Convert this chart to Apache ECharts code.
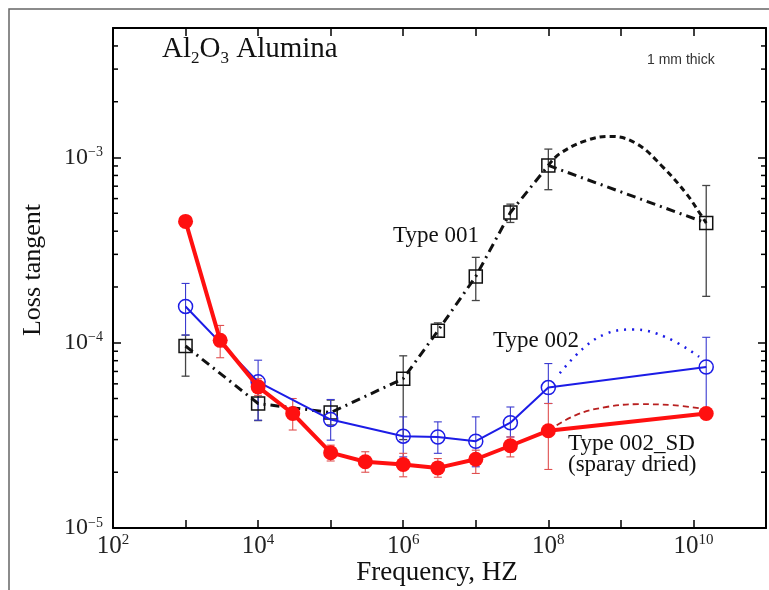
<!DOCTYPE html>
<html>
<head>
<meta charset="utf-8">
<script src="https://cdn.jsdelivr.net/npm/echarts@6/dist/echarts.min.js"></script>
<style>
  html, body { margin: 0; padding: 0; background: #fff; }
  #main { width: 769px; height: 590px; }
</style>
</head>
<body>
<div id="main"></div>
<script>
// Type 001 (open squares, dash-dot)
var type001Freq = [1e3, 1e4, 1e5, 1e6, 3e6, 1e7, 3e7, 1e8, 1.5e10];
var type001Val  = [9.6e-5, 4.7e-5, 4.2e-5, 6.4e-5, 1.16e-4, 2.28e-4, 5.05e-4, 9.06e-4, 4.43e-4];
var type001Lo   = [6.6e-5, 3.8e-5, 3.6e-5, 3.0e-5, 1.07e-4, 1.69e-4, 4.46e-4, 6.7e-4, 1.78e-4];
var type001Hi   = [1.1e-4, 5.4e-5, 4.9e-5, 8.5e-5, 1.28e-4, 2.89e-4, 5.6e-4, 1.11e-3, 7.06e-4];
// upper dashed branch of type 001
var type001PeakFreq = [1e8, 1.44e8, 3.35e8, 7e8, 1.63e9, 3.8e9, 8e9, 1.28e10, 1.5e10];
var type001PeakVal  = [9.06e-4, 1.05e-3, 1.235e-3, 1.3e-3, 1.19e-3, 8.87e-4, 6.37e-4, 4.87e-4, 4.43e-4];

// Type 002 (open circles, blue)
var type002Freq = [1e3, 1e4, 1e5, 1e6, 3e6, 1e7, 3e7, 1e8, 1.5e10];
var type002Val  = [1.57e-4, 6.15e-5, 3.85e-5, 3.13e-5, 3.1e-5, 2.94e-5, 3.7e-5, 5.73e-5, 7.4e-5];
var type002Lo   = [1.1e-4, 3.82e-5, 2.98e-5, 2.42e-5, 2.53e-5, 2.14e-5, 3.1e-5, 4.7e-5, 4.15e-5];
var type002Hi   = [2.09e-4, 8.05e-5, 4.94e-5, 3.98e-5, 3.74e-5, 3.98e-5, 4.5e-5, 7.72e-5, 1.07e-4];
var type002PeakFreq = [1.44e8, 3e8, 6.3e8, 1.47e9, 4.2e9, 1.2e10];
var type002PeakVal  = [6.85e-5, 9.3e-5, 1.12e-4, 1.18e-4, 1.07e-4, 8.4e-5];

// Type 002_SD (filled circles, red)
var type002SDFreq = [1e3, 3e3, 1e4, 3e4, 1e5, 3e5, 1e6, 3e6, 1e7, 3e7, 1e8, 1.5e10];
var type002SDVal  = [4.52e-4, 1.03e-4, 5.78e-5, 4.15e-5, 2.55e-5, 2.28e-5, 2.2e-5, 2.11e-5, 2.35e-5, 2.78e-5, 3.35e-5, 4.15e-5];
var type002SDLo   = [null, 8.3e-5, 5.2e-5, 3.38e-5, 2.3e-5, 2.0e-5, 1.89e-5, 1.88e-5, 1.97e-5, 2.42e-5, 2.07e-5, null];
var type002SDHi   = [null, 1.24e-4, 6.4e-5, 5.0e-5, 2.8e-5, 2.58e-5, 2.53e-5, 2.37e-5, 2.63e-5, 3.1e-5, 4.7e-5, null];
var type002SDPeakFreq = [1e8, 2.4e8, 6.3e8, 1.8e9, 5.2e9, 1.28e10];
var type002SDPeakVal  = [3.35e-5, 4.07e-5, 4.5e-5, 4.66e-5, 4.6e-5, 4.42e-5];

// axis decoration
var minorMultipliers = [2, 3, 4, 5, 6, 7, 8, 9];
var minorDecades = [1e-5, 1e-4, 1e-3];

var SERIF = 'Liberation Serif';

function pairs(xs, ys) {
    var out = [];
    for (var i = 0; i < xs.length; i++) out.push([xs[i], ys[i]]);
    return out;
}
function errPairs(xs, lo, hi) {
    var out = [];
    for (var i = 0; i < xs.length; i++) {
        if (lo[i] != null && hi[i] != null) out.push([xs[i], lo[i], hi[i]]);
    }
    return out;
}
function errorBar(color, width) {
    return function (params, api) {
        var top = api.coord([api.value(0), api.value(2)]);
        var bot = api.coord([api.value(0), api.value(1)]);
        var c = 4;
        var st = { stroke: color, lineWidth: width };
        return {
            type: 'group',
            children: [
                { type: 'line', shape: { x1: top[0], y1: top[1], x2: bot[0], y2: bot[1] }, style: st },
                { type: 'line', shape: { x1: top[0] - c, y1: top[1], x2: top[0] + c, y2: top[1] }, style: st },
                { type: 'line', shape: { x1: bot[0] - c, y1: bot[1], x2: bot[0] + c, y2: bot[1] }, style: st }
            ]
        };
    };
}

var minorTicks = [];
minorDecades.forEach(function (d) {
    minorMultipliers.forEach(function (m) {
        if (d * m < 5e-3) minorTicks.push([100, d * m]);
    });
});

function isPow(v) {
    var l = Math.log10(v);
    return Math.abs(l - Math.round(l)) < 1e-6;
}

var chart = echarts.init(document.getElementById('main'));
var option = {
    animation: false,
    backgroundColor: '#fff',
    grid: { left: 113, right: 3, top: 28, bottom: 62, containLabel: false },
    xAxis: [{
        type: 'log', logBase: 10, min: 100, max: 1e11, splitNumber: 9,
        position: 'bottom',
        axisLine: { show: true, lineStyle: { color: '#000', width: 2 } },
        axisTick: { show: true, inside: true, length: 8, lineStyle: { color: '#000', width: 1.5 } },
        splitLine: { show: false },
        axisLabel: {
            margin: 5,
            formatter: function (v) {
                if (!isPow(v)) return '';
                var e = Math.round(Math.log10(v));
                if (e % 2 !== 0) return '';
                return '{b|10}{s|' + e + '}';
            },
            rich: {
                b: { fontFamily: SERIF, fontSize: 25, lineHeight: 26, color: '#222', verticalAlign: 'middle' },
                s: { fontFamily: SERIF, fontSize: 15, lineHeight: 15, color: '#222', verticalAlign: 'top' }
            }
        }
    }, {
        type: 'log', logBase: 10, min: 100, max: 1e11, splitNumber: 9,
        position: 'top',
        axisLine: { show: true, lineStyle: { color: '#000', width: 2 } },
        axisTick: { show: true, inside: true, length: 8, lineStyle: { color: '#000', width: 1.5 } },
        axisLabel: { show: false },
        splitLine: { show: false }
    }],
    yAxis: [{
        type: 'log', logBase: 10, min: 1e-5, max: 5e-3, splitNumber: 3,
        position: 'left',
        axisLine: { show: true, lineStyle: { color: '#000', width: 2 } },
        axisTick: { show: true, inside: true, length: 8, lineStyle: { color: '#000', width: 1.5 } },
        splitLine: { show: false },
        axisLabel: {
            margin: 10,
            formatter: function (v) {
                if (!isPow(v)) return '';
                var e = Math.round(Math.log10(v));
                return '{b|10}{s|\u2212' + (-e) + '}';
            },
            rich: {
                b: { fontFamily: SERIF, fontSize: 24, lineHeight: 24, color: '#222', verticalAlign: 'middle' },
                s: { fontFamily: SERIF, fontSize: 14, lineHeight: 14, color: '#222', verticalAlign: 'top' }
            }
        }
    }, {
        type: 'log', logBase: 10, min: 1e-5, max: 5e-3, splitNumber: 3,
        position: 'right',
        axisLine: { show: true, lineStyle: { color: '#000', width: 2 } },
        axisTick: { show: true, inside: true, length: 8, lineStyle: { color: '#000', width: 1.5 } },
        axisLabel: { show: false },
        splitLine: { show: false }
    }],
    graphic: [
        { type: 'rect', shape: { x: 9, y: 9, width: 800, height: 620 }, style: { fill: 'none', stroke: '#666', lineWidth: 1.5 }, z: -1 },
        { type: 'text', left: 162, top: 35, style: {
            text: '{t|Al}{u|2}{t|O}{u|3}{t| Alumina}',
            rich: {
                t: { fontFamily: SERIF, fontSize: 29, lineHeight: 32, padding: [0, 0, 6, 0], verticalAlign: 'top', fill: '#111' },
                u: { fontFamily: SERIF, fontSize: 17, lineHeight: 18, verticalAlign: 'bottom', fill: '#111' }
            }
        } },
        { type: 'text', x: 647, y: 60, style: { text: '1 mm thick', font: '14px "Liberation Sans"', fill: '#333', verticalAlign: 'middle' } },
        { type: 'text', x: 393, y: 236, style: { text: 'Type 001', font: '23px "Liberation Serif"', fill: '#111', verticalAlign: 'middle' } },
        { type: 'text', x: 493, y: 341, style: { text: 'Type 002', font: '23px "Liberation Serif"', fill: '#111', verticalAlign: 'middle' } },
        { type: 'text', x: 568, y: 444, style: { text: 'Type 002_SD', font: '23px "Liberation Serif"', fill: '#111', verticalAlign: 'middle' } },
        { type: 'text', x: 568, y: 465, style: { text: '(sparay dried)', font: '23px "Liberation Serif"', fill: '#111', verticalAlign: 'middle' } },
        { type: 'text', x: 437, y: 573, style: { text: 'Frequency, HZ', font: '27px "Liberation Serif"', fill: '#111', align: 'center', verticalAlign: 'middle' } },
        { type: 'text', x: 33, y: 270, rotation: Math.PI / 2, style: { text: 'Loss tangent', font: '26px "Liberation Serif"', fill: '#111', align: 'center', verticalAlign: 'middle' } }
    ],
    series: [
        {
            type: 'custom', name: 'minor', data: minorTicks, silent: true, z: 1,
            renderItem: function (params, api) {
                var y = api.coord([api.value(0), api.value(1)])[1];
                var cs = params.coordSys;
                var st = { stroke: '#000', lineWidth: 1.5 };
                return { type: 'group', children: [
                    { type: 'line', shape: { x1: cs.x, y1: y, x2: cs.x + 5, y2: y }, style: st },
                    { type: 'line', shape: { x1: cs.x + cs.width, y1: y, x2: cs.x + cs.width - 5, y2: y }, style: st }
                ] };
            }
        },
        { type: 'custom', name: 'err001', data: errPairs(type001Freq, type001Lo, type001Hi), renderItem: errorBar('#444', 1.3), z: 2 },
        { type: 'custom', name: 'err002', data: errPairs(type002Freq, type002Lo, type002Hi), renderItem: errorBar('#3b3bd0', 1.1), z: 2 },
        { type: 'custom', name: 'err002SD', data: errPairs(type002SDFreq, type002SDLo, type002SDHi), renderItem: errorBar('#e05050', 1.1), z: 2 },
        {
            type: 'line', name: 'Type 001 peak', data: pairs(type001PeakFreq, type001PeakVal), smooth: 0.4,
            symbol: 'none', lineStyle: { color: '#111', width: 3, type: [6, 4] }, z: 3
        },
        {
            type: 'line', name: 'Type 001', data: pairs(type001Freq, type001Val),
            symbol: 'rect', symbolSize: 13,
            itemStyle: { color: 'rgba(0,0,0,0)', borderColor: '#111', borderWidth: 1.5 },
            lineStyle: { color: '#111', width: 3, type: [9, 5, 2, 5] }, z: 3
        },
        {
            type: 'line', name: 'Type 002 peak', data: pairs(type002PeakFreq, type002PeakVal), smooth: 0.4,
            symbol: 'none', lineStyle: { color: '#1c1ce6', width: 2.5, type: [2, 6] }, z: 4
        },
        {
            type: 'line', name: 'Type 002', data: pairs(type002Freq, type002Val),
            symbol: 'circle', symbolSize: 14,
            itemStyle: { color: 'rgba(0,0,0,0)', borderColor: '#1c1ce6', borderWidth: 1.5 },
            lineStyle: { color: '#1c1ce6', width: 2 }, z: 4
        },
        {
            type: 'line', name: 'Type 002_SD peak', data: pairs(type002SDPeakFreq, type002SDPeakVal), smooth: 0.4,
            symbol: 'none', lineStyle: { color: '#b82020', width: 1.8, type: [6, 4] }, z: 5
        },
        {
            type: 'line', name: 'Type 002_SD', data: pairs(type002SDFreq, type002SDVal),
            symbol: 'circle', symbolSize: 15,
            itemStyle: { color: '#ff1010' },
            lineStyle: { color: '#ff1010', width: 4 }, z: 5
        }
    ]
};
chart.setOption(option);
</script>
</body>
</html>
